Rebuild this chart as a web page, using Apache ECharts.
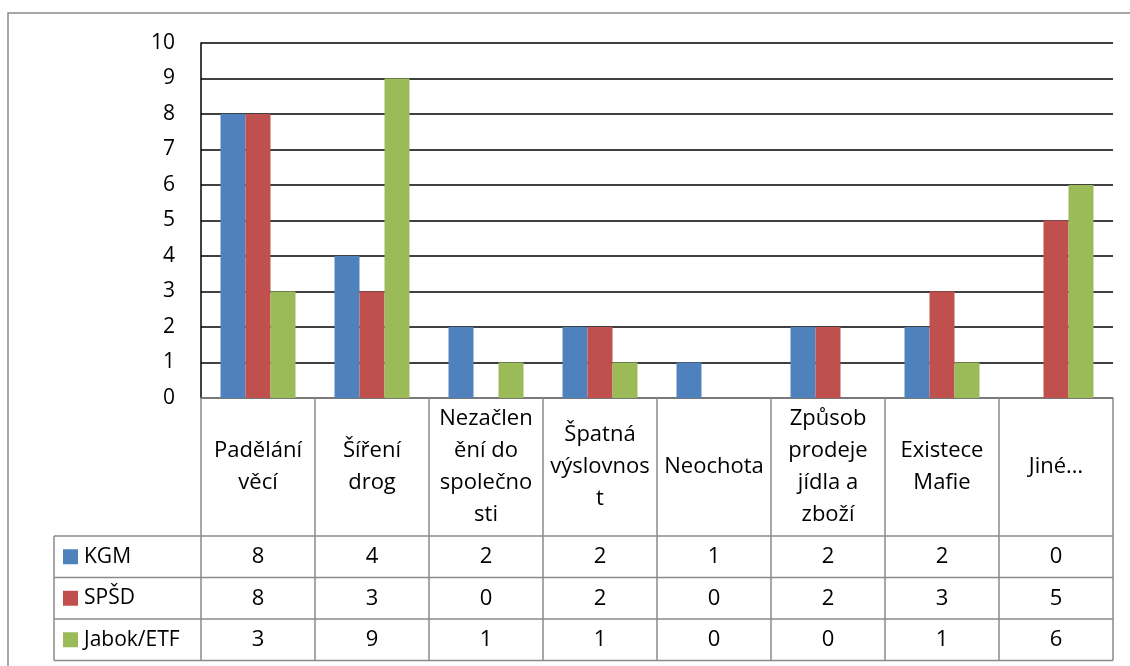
<!DOCTYPE html>
<html><head><meta charset="utf-8">
<script src="https://cdn.jsdelivr.net/npm/echarts@6/dist/echarts.min.js"></script>
<style>html,body{margin:0;padding:0;background:#fff}#c{width:1130px;height:666px}</style>
</head><body><div id="c"></div>
<script>
const categories = ['Padělání\nvěcí','Šíření\ndrog','Nezačlen\nění do\nspolečno\nsti','Špatná\nvýslovnos\nt','Neochota','Způsob\nprodeje\njídla a\nzboží','Existece\nMafie','Jiné…'];
const seriesNames = ['KGM','SPŠD','Jabok/ETF'];
const kgm = [8,4,2,2,1,2,2,0];
const spsd = [8,3,0,2,0,2,3,5];
const jabok = [3,9,1,1,0,0,1,6];
const yTicks = [0,1,2,3,4,5,6,7,8,9,10];

const colors = ['#4F81BD','#C0504D','#9BBB59'];
const values = [kgm, spsd, jabok];
const FONT = '"Open Sans", sans-serif';
const G = {left:201, right:17, top:43, bottom:268};
const W = 1130, H = 666;
const axisY = H - G.bottom;        // 398
const headerH = 138;
const rowH = 41.5;
const tableLeft = 54;
const tableRight = W - G.right;
const gray = '#8a8a8a';

const xAxes = [{
  type:'category', data:categories, gridIndex:0, boundaryGap:true,
  axisLine:{show:true, lineStyle:{color:gray, width:1.5}},
  axisTick:{show:true, interval:0, length: headerH + rowH*3, lineStyle:{color:gray, width:1.5}},
  axisLabel:{interval:0, margin: headerH/2, verticalAlign:'middle', lineHeight:32,
    fontFamily:FONT, fontSize:22, color:'#000'}
}];
values.forEach((arr, k) => {
  xAxes.push({
    type:'category', data:categories, gridIndex:0, position:'bottom',
    axisLine:{show:false}, axisTick:{show:false}, splitLine:{show:false},
    axisLabel:{interval:0, margin: headerH + rowH*k + rowH/2, verticalAlign:'middle',
      fontFamily:FONT, fontSize:22, color:'#000',
      formatter:(v, i) => String(arr[i])}
  });
});

const graphics = [
  {type:'rect', shape:{x:8, y:13, width:W, height:H}, style:{fill:'none', stroke:gray, lineWidth:1.5}, silent:true},
  {type:'line', shape:{x1:tableLeft, y1:axisY+headerH, x2:tableLeft, y2:axisY+headerH+rowH*3}, style:{stroke:gray, lineWidth:1.5}}
];
for (let k=0;k<=3;k++){
  const y = axisY + headerH + rowH*k;
  graphics.push({type:'line', shape:{x1:tableLeft, y1:y, x2:tableRight, y2:y}, style:{stroke:gray, lineWidth:1.5}});
}
seriesNames.forEach((n,k) => {
  const cy = axisY + headerH + rowH*k + rowH/2;
  graphics.push({type:'rect', shape:{x:63, y:cy-7.5, width:15, height:15}, style:{fill:colors[k]}});
  graphics.push({type:'text', x:84, y:cy, style:{text:n, fontFamily:FONT, fontSize:21, fill:'#000', verticalAlign:'middle', align:'left'}});
});

const chart = echarts.init(document.getElementById('c'), null, {renderer:'canvas'});
chart.setOption({
  animation:false,
  backgroundColor:'#fff',
  grid:{left:G.left, right:G.right, top:G.top, bottom:G.bottom, containLabel:false},
  xAxis: xAxes,
  yAxis:{type:'value', min:yTicks[0], max:yTicks[yTicks.length-1], interval:1,
    axisLine:{show:true, lineStyle:{color:'#000', width:1.5}},
    axisTick:{show:false},
    splitLine:{show:true, lineStyle:{color:'#000', width:1.5}},
    axisLabel:{margin:26, fontFamily:FONT, fontSize:21, color:'#000'}},
  series: seriesNames.map((n,k) => ({
    name:n, type:'bar', data:values[k], xAxisIndex:0, barWidth:25, barGap:'0%',
    itemStyle:{color:colors[k]}
  })),
  graphic: graphics
});
</script></body></html>
